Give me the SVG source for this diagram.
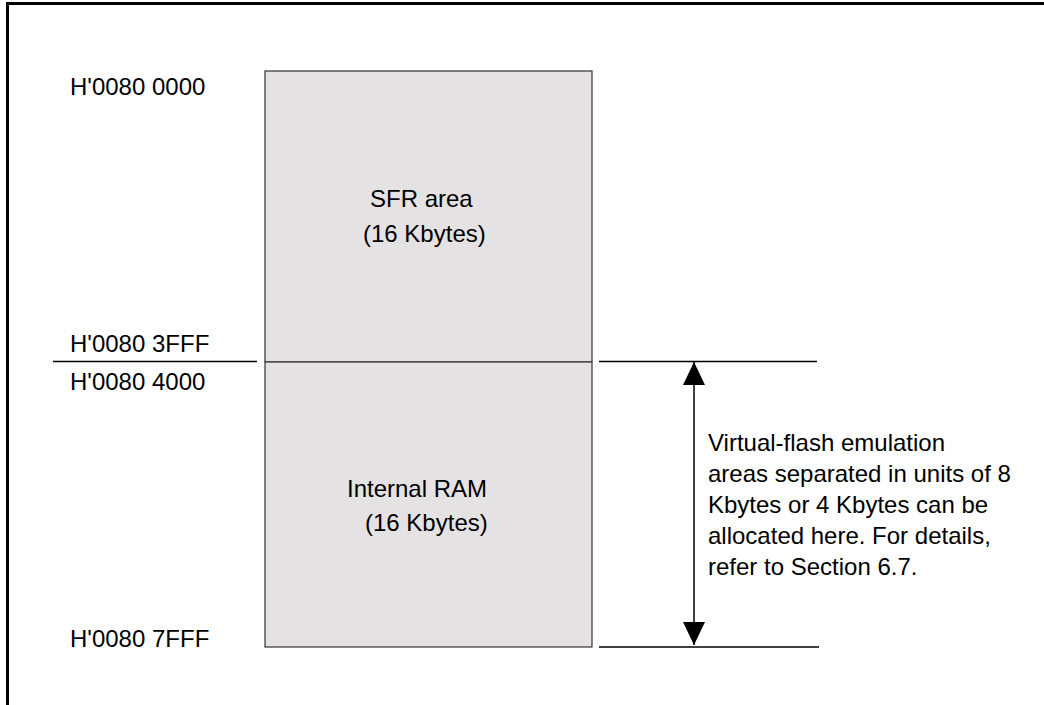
<svg xmlns="http://www.w3.org/2000/svg" width="1044" height="705" viewBox="0 0 1044 705">
<style>
text { font-family: "Liberation Sans", Arial, sans-serif; font-size: 24px; fill: #000; }
.frame { fill: none; stroke: #000; stroke-width: 3; }
.ln { stroke: #000; stroke-width: 1.5; fill: none; }
.area { fill: #e4e2e2; stroke: #333; stroke-width: 1.2; }
</style>
<defs>
<marker id="ah" viewBox="0 0 23 22" refX="23" refY="11" markerWidth="23" markerHeight="22" markerUnits="userSpaceOnUse" orient="auto">
<path d="M0,0 L23,11 L0,22 Z" fill="#000"/>
</marker>
</defs>
<path class="frame" d="M7.5,705 L7.5,3.5 L1044,3.5"/>
<g id="sfr">
<rect class="area" x="265" y="71" width="327" height="291"/>
<text x="370" y="207">SFR area</text>
<text x="363" y="242">(16 Kbytes)</text>
</g>
<g id="ram">
<rect class="area" x="265" y="362" width="327" height="285"/>
<text x="347" y="497">Internal RAM</text>
<text x="365" y="531">(16 Kbytes)</text>
</g>
<g id="labels">
<text x="70" y="95">H'0080 0000</text>
<text x="70" y="352">H'0080 3FFF</text>
<text x="70" y="390">H'0080 4000</text>
<text x="70" y="647">H'0080 7FFF</text>
</g>
<g id="note">
<text x="708" y="451">Virtual-flash emulation</text>
<text x="708" y="482">areas separated in units of 8</text>
<text x="708" y="513">Kbytes or 4 Kbytes can be</text>
<text x="708" y="544">allocated here. For details,</text>
<text x="708" y="575">refer to Section 6.7.</text>
</g>
<g id="connectors">
<line class="ln" x1="53" y1="361.5" x2="257" y2="361.5"/>
<line class="ln" x1="599" y1="361.5" x2="817" y2="361.5"/>
<line class="ln" x1="599" y1="647" x2="819" y2="647" stroke="#555"/>
<line class="ln" x1="694" y1="380" x2="694" y2="626"/>
<line class="ln" x1="694" y1="380" x2="694" y2="362" stroke-width="0" marker-end="url(#ah)"/>
<line class="ln" x1="694" y1="626" x2="694" y2="645" stroke-width="0" marker-end="url(#ah)"/>
</g>
</svg>
